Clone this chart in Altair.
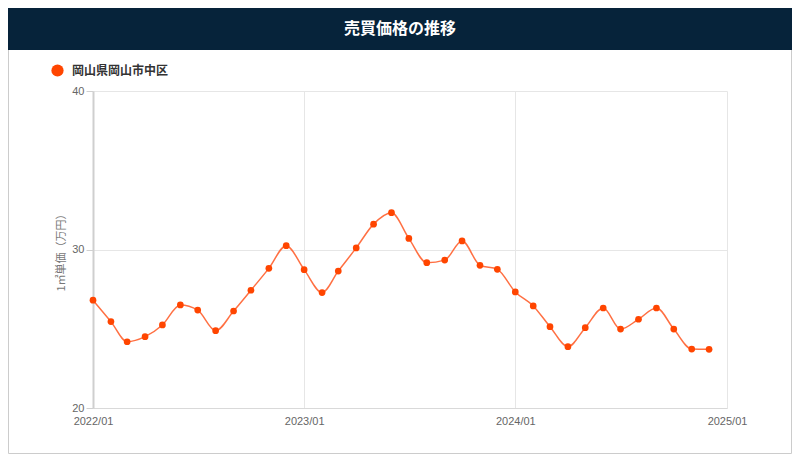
import altair as alt
import pandas as pd

months = pd.date_range("2022-01-01", "2024-12-01", freq="MS").strftime("%Y-%m-%d").tolist()
prices = [26.8, 25.45, 24.18, 24.5, 25.24, 26.5, 26.18, 24.88, 26.12, 27.43, 28.81, 30.24,
          28.73, 27.28, 28.64, 30.1, 31.6, 32.32, 30.7, 29.17, 29.33, 30.54, 29.0, 28.75,
          27.32, 26.44, 25.13, 23.87, 25.07, 26.31, 24.98, 25.6, 26.31, 24.98, 23.72, 23.7]
series_name = "岡山県岡山市中区"
title_text = "売買価格の推移"
y_title = "1㎡単価（万円）"
y_ticks = [20, 30, 40]
x_ticks = ["2022-01-01", "2023-01-01", "2024-01-01", "2025-01-01"]

df = pd.DataFrame({"month": months, "price": prices, "area": series_name})

JP = "Noto Sans CJK JP"
LAT = "Liberation Sans"
W, H = 634, 317
PL, PT, PR, PB = 85, 83, 65, 47

x_enc = alt.X("month:T",
              scale=alt.Scale(domain=["2022-01-01", "2025-01-01"]),
              axis=alt.Axis(values=x_ticks, format="%Y/%m", title=None, ticks=False,
                            labelColor="#666", labelFontSize=11, labelFont=LAT, labelPadding=7,
                            domainColor="#d9d9d9", gridColor="#e6e6e6", labelFlush=False))
y_enc = alt.Y("price:Q",
              scale=alt.Scale(domain=[20, 40], nice=False, zero=False),
              axis=alt.Axis(values=y_ticks, title=y_title, titleFont=JP, titleFontSize=11,
                            titleFontWeight="normal", titleColor="#777", titlePadding=5,
                            labelColor="#666", labelFontSize=11, labelFont=LAT, labelPadding=2,
                            tickSize=7, tickColor="#d0d0d0", domainColor="#cfcfcf", domainWidth=2,
                            gridColor="#e6e6e6"))

color_enc = alt.Color("area:N", scale=alt.Scale(domain=[series_name], range=["#ff4500"]),
                      legend=alt.Legend(title=None, orient="none", legendX=-42, legendY=-27,
                                        symbolType="circle", symbolSize=150, symbolFillColor="#ff4500",
                                        symbolStrokeWidth=0, labelFont=JP, labelFontSize=12,
                                        labelFontWeight="bold", labelColor="#333", labelOffset=8,
                                        padding=0))

base = alt.Chart(df)
line = base.mark_line(interpolate="monotone", strokeWidth=1.5, color="#ff7043").encode(x=x_enc, y=y_enc)
points = base.mark_point(filled=True, size=45, opacity=1).encode(x="month:T", y="price:Q", color=color_enc)

deco = alt.Chart(pd.DataFrame({"k": [0]}))
border = deco.mark_rect(fillOpacity=0, stroke="#cccccc", strokeWidth=1).encode(
    x=alt.value(-PL + 0.5), x2=alt.value(W + PR - 0.5), y=alt.value(-PT + 0.5), y2=alt.value(H + PB - 1.5))
header = deco.mark_rect(fill="#06233a").encode(
    x=alt.value(-PL), x2=alt.value(W + PR), y=alt.value(-PT), y2=alt.value(-41))
title = deco.mark_text(text=title_text, font=JP, fontSize=16, fontWeight="bold", color="white",
                       align="center", baseline="middle").encode(x=alt.value(307), y=alt.value(-62))

chart = alt.layer(line, points, border, header, title).properties(
    width=W, height=H,
    autosize=alt.AutoSizeParams(type="none"),
    padding={"left": PL, "top": PT, "right": PR, "bottom": PB},
    background="white",
).configure_view(stroke=None)

chart.save("out.html", embed_options={"renderer": "svg", "actions": False})
